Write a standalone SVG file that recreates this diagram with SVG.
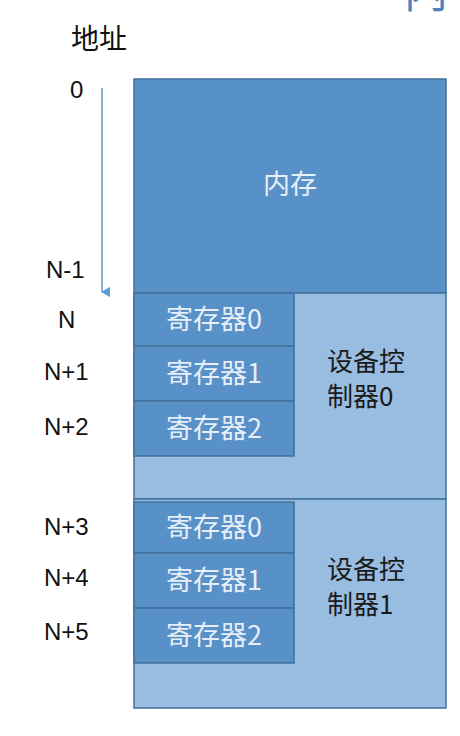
<svg xmlns="http://www.w3.org/2000/svg" width="460" height="736" viewBox="0 0 460 736">
<defs>
<style>
.dark{fill:#5891c8;stroke:#41719c;stroke-width:1.5}
.light{fill:#99bde0;stroke:#41719c;stroke-width:1.5}
.lbl{font-family:"Liberation Sans","Noto Sans CJK SC",sans-serif;font-size:24px;fill:#111}
.reg{font-family:"Noto Sans CJK SC",sans-serif;font-size:27px;fill:#e6eef8;text-anchor:middle}
.ctl{font-family:"Noto Sans CJK SC",sans-serif;font-size:26px;fill:#1a1a1a}
</style>
<marker id="ah" markerWidth="10" markerHeight="10" refX="5" refY="8" orient="auto" markerUnits="userSpaceOnUse">
<path d="M0,0 L10,0 L5,9 z" fill="#5b9bd5"/>
</marker>
</defs>
<rect x="0" y="0" width="460" height="736" fill="#fff"/>
<text x="404" y="8" font-family="Noto Sans CJK SC,sans-serif" font-size="44" fill="#4f81bd">内</text>
<text x="71" y="49" font-family="Noto Sans CJK SC,serif" font-size="28" fill="#111">地址</text>
<g id="labels">
<text class="lbl" x="70" y="98">0</text>
<text class="lbl" x="46" y="278">N-1</text>
<text class="lbl" x="58" y="328">N</text>
<text class="lbl" x="44" y="380">N+1</text>
<text class="lbl" x="44" y="435">N+2</text>
<text class="lbl" x="44" y="535">N+3</text>
<text class="lbl" x="44" y="586">N+4</text>
<text class="lbl" x="44" y="640">N+5</text>
</g>
<g id="connectors">
<line x1="102" y1="88" x2="102" y2="292" stroke="#5b9bd5" stroke-width="1.5" marker-end="url(#ah)"/>
</g>
<g id="memory">
<rect class="dark" x="134" y="79" width="312" height="214"/>
<text x="290" y="194" font-family="Noto Sans CJK SC,sans-serif" font-size="27" fill="#e6eef8" text-anchor="middle">内存</text>
</g>
<g id="controller0">
<rect class="light" x="134" y="293" width="312" height="206"/>
<text class="ctl" x="327" y="371">设备控</text>
<text class="ctl" x="327" y="406">制器0</text>
</g>
<g id="controller1">
<rect class="light" x="134" y="499" width="312" height="209"/>
<text class="ctl" x="327" y="579">设备控</text>
<text class="ctl" x="327" y="614">制器1</text>
</g>
<g id="c0r0"><rect class="dark" x="134" y="293" width="160" height="53"/><text class="reg" x="214" y="329">寄存器0</text></g>
<g id="c0r1"><rect class="dark" x="134" y="346" width="160" height="55"/><text class="reg" x="214" y="383">寄存器1</text></g>
<g id="c0r2"><rect class="dark" x="134" y="401" width="160" height="55"/><text class="reg" x="214" y="438">寄存器2</text></g>
<g id="c1r0"><rect class="dark" x="134" y="502" width="160" height="51"/><text class="reg" x="214" y="537">寄存器0</text></g>
<g id="c1r1"><rect class="dark" x="134" y="553" width="160" height="55"/><text class="reg" x="214" y="590">寄存器1</text></g>
<g id="c1r2"><rect class="dark" x="134" y="608" width="160" height="55"/><text class="reg" x="214" y="645">寄存器2</text></g>
</svg>
